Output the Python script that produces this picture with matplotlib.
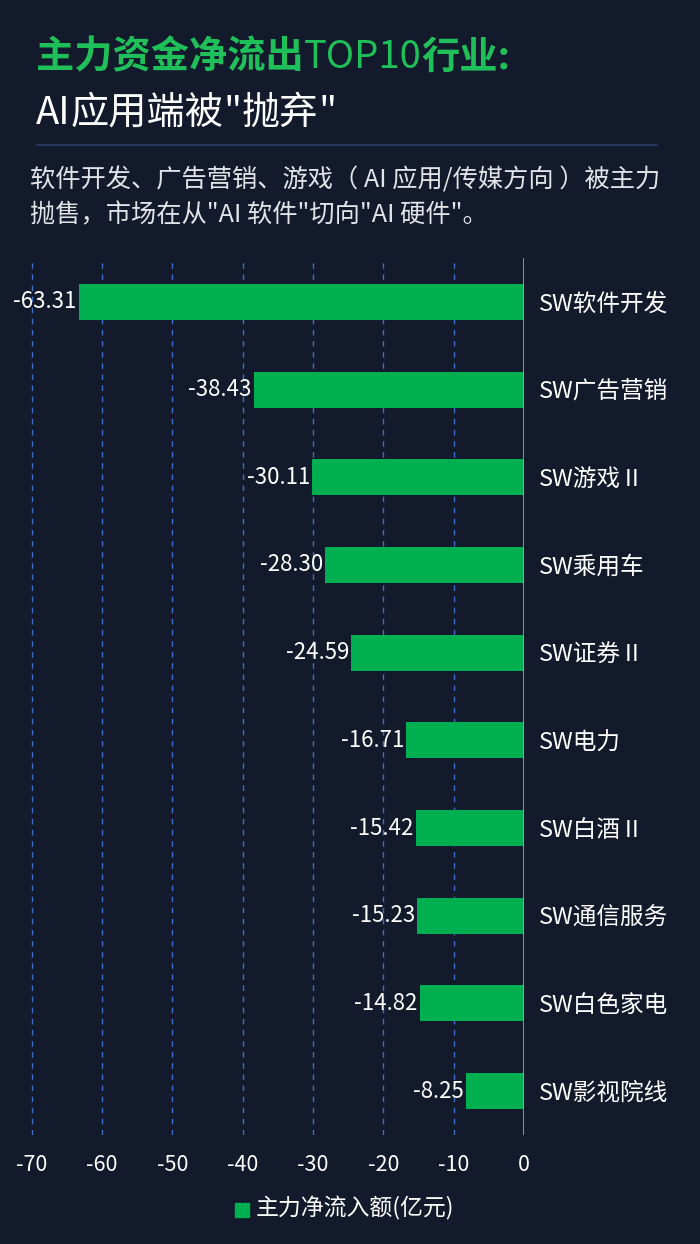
import matplotlib
matplotlib.use("Agg")
import matplotlib.pyplot as plt
from matplotlib.patches import Rectangle
from matplotlib.lines import Line2D

plt.rcParams['font.family'] = ['Noto Sans CJK SC', 'DejaVu Sans']
plt.rcParams['axes.unicode_minus'] = False

# ── Data ──────────────────────────────────────────────────────────────────────
industries = ["SW软件开发", "SW广告营销", "SW游戏Ⅱ", "SW乘用车", "SW证券Ⅱ",
              "SW电力", "SW白酒Ⅱ", "SW通信服务", "SW白色家电", "SW影视院线"]
net_inflow = [-63.31, -38.43, -30.11, -28.30, -24.59,
              -16.71, -15.42, -15.23, -14.82, -8.25]
x_ticks = [-70, -60, -50, -40, -30, -20, -10, 0]

# title pieces: (text, bold?)
title_1 = [("主力资金净流出", True), ("TOP10", False), ("行业:", True)]
title_2 = [("AI", False), ("应用端被", True), ("\"", False), ("抛弃", True), ("\"", False)]
subtitle = ("软件开发、广告营销、游戏（ AI 应用/传媒方向 ）被主力\n"
            "抛售，市场在从\"AI 软件\"切向\"AI 硬件\"。")
legend_label = "主力净流入额(亿元)"

# ── Style ─────────────────────────────────────────────────────────────────────
BG = "#131a2b"
BAR = "#00b050"
TITLE_GREEN = "#1fc05a"
GRID = "#3d6fc6"
TEXT = "#ffffff"
SUB = "#e2e4e8"

W, H = 700, 1244
fig = plt.figure(figsize=(W / 100, H / 100), dpi=100, facecolor=BG)
renderer = fig.canvas.get_renderer()


def fx(px):
    return px / W


def fy(py):
    return 1 - py / H


def run_text(x_px, y_px, pieces, color, size, bold_weight="bold"):
    """Draw text pieces one after another on one line, mixing weights."""
    x = x_px
    for txt, bold in pieces:
        t = fig.text(fx(x), fy(y_px), txt, color=color, fontsize=size,
                     fontweight=bold_weight if bold else "normal",
                     va="center", ha="left")
        x += t.get_window_extent(renderer).width


# ── Header ────────────────────────────────────────────────────────────────────
run_text(36, 57, title_1, TITLE_GREEN, 27.5)
run_text(36, 113, title_2, TEXT, 27.5, bold_weight="medium")
fig.add_artist(Line2D([fx(37), fx(657)], [fy(145), fy(145)],
                      color="#2b3f6b", lw=1.2))
fig.text(fx(30), fy(198), subtitle, color=SUB, fontsize=18.2,
         va="center", ha="left", linespacing=1.45)

# ── Chart ─────────────────────────────────────────────────────────────────────
ax = fig.add_axes([0, fy(1135), fx(524), (1135 - 258) / H])
ax.set_facecolor("none")

y = list(range(len(industries)))
ax.barh(y, net_inflow, height=0.41, color=BAR, zorder=3)

for yi, v in zip(y, net_inflow):
    ax.text(v - 0.3, yi, f"{v:.2f}", color=TEXT, fontsize=16,
            va="center", ha="right", zorder=4)

ax.set_xlim(-74.5, 0)
ax.set_ylim(len(industries) - 0.5, -0.5)

for t in x_ticks[:-1]:
    ax.axvline(t, color=GRID, lw=1, ls=(0, (4, 4)), zorder=1)
ax.axvline(0, color="#a0a4ab", lw=1.2, zorder=5)

ax.set_xticks(x_ticks)
ax.set_xticklabels([str(t) for t in x_ticks], color=TEXT, fontsize=15.5)
ax.tick_params(axis="x", length=0, pad=14)

ax.yaxis.tick_right()
ax.set_yticks(y)
ax.set_yticklabels(industries, color=TEXT, fontsize=17)
ax.tick_params(axis="y", length=0, pad=11)

for s in ax.spines.values():
    s.set_visible(False)

# ── Legend ────────────────────────────────────────────────────────────────────
fig.add_artist(Rectangle((fx(235), fy(1217)), fx(14), 14 / H,
                         color=BAR, transform=fig.transFigure))
fig.text(fx(256), fy(1208), legend_label, color=TEXT, fontsize=16.5,
         va="center", ha="left")

fig.savefig("out.png", dpi=100, facecolor=BG)
